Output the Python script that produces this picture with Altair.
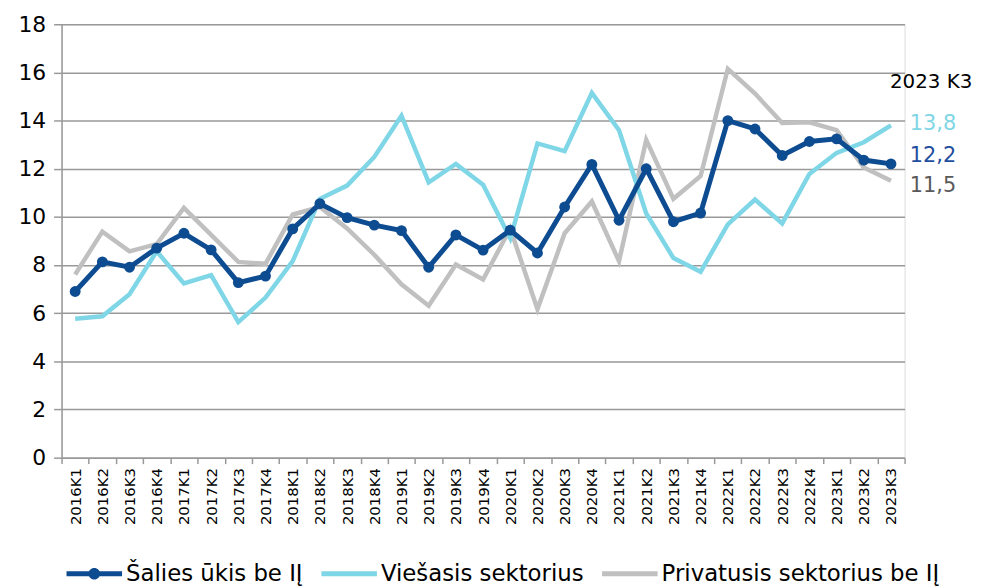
import altair as alt
import pandas as pd

quarters = [
    "2016K1", "2016K2", "2016K3", "2016K4",
    "2017K1", "2017K2", "2017K3", "2017K4",
    "2018K1", "2018K2", "2018K3", "2018K4",
    "2019K1", "2019K2", "2019K3", "2019K4",
    "2020K1", "2020K2", "2020K3", "2020K4",
    "2021K1", "2021K2", "2021K3", "2021K4",
    "2022K1", "2022K2", "2022K3", "2022K4",
    "2023K1", "2023K2", "2023K3",
]
salies = [6.9, 8.13, 7.91, 8.7, 9.32, 8.63, 7.27, 7.54, 9.5, 10.55, 9.97, 9.66,
          9.43, 7.91, 9.25, 8.62, 9.45, 8.5, 10.41, 12.18, 9.86, 12.0, 9.8, 10.16,
          14.0, 13.65, 12.55, 13.13, 13.24, 12.36, 12.2]
viesasis = [5.77, 5.87, 6.79, 8.57, 7.24, 7.58, 5.63, 6.65, 8.16, 10.75, 11.3, 12.49,
            14.2, 11.43, 12.2, 11.34, 9.11, 13.05, 12.73, 15.15, 13.6, 10.14, 8.29, 7.72,
            9.69, 10.72, 9.73, 11.78, 12.66, 13.1, 13.8]
privatus = [7.61, 9.39, 8.57, 8.87, 10.37, 9.25, 8.13, 8.05, 10.1, 10.41, 9.52, 8.43,
            7.2, 6.31, 8.02, 7.4, 9.52, 6.17, 9.32, 10.64, 8.16, 13.2, 10.75, 11.7,
            16.15, 15.12, 13.9, 13.93, 13.6, 12.05, 11.5]

series_names = ["Šalies ūkis be IĮ", "Viešasis sektorius", "Privatusis sektorius be IĮ"]
line_colors = ["#0E4C92", "#7FD6E6", "#C0C0C0"]
label_colors = ["#1F4E9E", "#7FD6E6", "#595959"]
last_label = "2023 K3"

FONT = "DejaVu Sans"

rows = []
for name, vals in zip(series_names, [salies, viesasis, privatus]):
    for i, (q, v) in enumerate(zip(quarters, vals)):
        rows.append({"q": q, "series": name, "v": v, "idx": i})
df = pd.DataFrame(rows)

xenc = alt.X(
    "q:O", sort=quarters,
    scale=alt.Scale(type="band", paddingInner=0, paddingOuter=0, domain=quarters),
    bandPosition=0.5,
    axis=alt.Axis(title=None, labelAngle=-90, tickBand="extent", grid=False,
                  labelFontSize=15, labelColor="#000000", labelFont=FONT,
                  tickColor="#999999", tickSize=6, tickWidth=1.5,
                  domainColor="#999999", domainWidth=1.5, labelPadding=4),
)
yenc = alt.Y(
    "v:Q", scale=alt.Scale(domain=[0, 18], nice=False, zero=True),
    axis=alt.Axis(title=None, values=list(range(0, 19, 2)), grid=True,
                  gridColor="#999999", gridWidth=1.5,
                  labelFontSize=22, labelColor="#000000", labelFont=FONT,
                  tickColor="#999999", tickSize=8, tickWidth=1.5,
                  domainColor="#999999", domainWidth=1.5, labelPadding=8),
)

base = alt.Chart(df)

def line_layer(i, width):
    return base.transform_filter(
        alt.datum.series == series_names[i]
    ).mark_line(color=line_colors[i], strokeWidth=width).encode(
        x=xenc, y=yenc, order="idx:Q"
    )

gray_line = line_layer(2, 4.5)
light_line = line_layer(1, 4.5)
dark_line = line_layer(0, 5)
dark_dots = base.transform_filter(
    alt.datum.series == series_names[0]
).mark_circle(color=line_colors[0], size=120, opacity=1).encode(x=xenc, y=yenc)

# legend-only layer (no visible data)
path_line = "M-1,-0.09L1,-0.09L1,0.09L-1,0.09Z"
path_dot = (path_line +
            "M-0.21,0A0.21,0.21 0 1,1 0.21,0A0.21,0.21 0 1,1 -0.21,0Z")
legend = alt.Legend(
    title=None, orient="none", legendX=5, legendY=526, direction="horizontal",
    labelFont=FONT, labelFontSize=23, labelColor="#000000", labelLimit=500,
    symbolSize=3136, symbolStrokeWidth=0, labelOffset=4, columnPadding=18,
    padding=0, symbolOpacity=1,
)
legend_layer = base.transform_filter("false").mark_point(
    filled=True, opacity=1, strokeWidth=0
).encode(
    x=xenc, y=yenc,
    color=alt.Color("series:N", scale=alt.Scale(domain=series_names, range=line_colors),
                    legend=legend),
    shape=alt.Shape("series:N", scale=alt.Scale(domain=series_names,
                                                range=[path_dot, path_line, path_line]),
                    legend=legend),
)

# end labels
dys = [-8, -1, 5]
text_layers = []
for i, (name, vals) in enumerate(zip(series_names, [salies, viesasis, privatus])):
    d = pd.DataFrame({"q": [quarters[-1]], "v": [vals[-1]],
                      "lab": [f"{vals[-1]:.1f}".replace(".", ",")]})
    text_layers.append(
        alt.Chart(d).mark_text(align="left", baseline="middle", dx=19, dy=dys[i],
                               fontSize=21, font=FONT, color=label_colors[i]).encode(
            x=xenc, y=yenc, text="lab:N")
    )

title_df = pd.DataFrame({"q": [quarters[-1]], "t": [last_label]})
title_text = alt.Chart(title_df).mark_text(
    align="left", baseline="middle", dx=-1, fontSize=20, font=FONT, color="#000000"
).encode(x=xenc, y=alt.value(58), text="t:N")

chart = alt.layer(
    legend_layer, gray_line, light_line, dark_line, dark_dots, *text_layers, title_text
).properties(
    width=850, height=437,
    padding={"left": 54, "top": 14, "right": 70, "bottom": 128},
    autosize=alt.AutoSizeParams(type="none"),
).configure_view(stroke=None).configure(font=FONT)

chart.save("out.html", embed_options={"renderer": "svg", "actions": False})
